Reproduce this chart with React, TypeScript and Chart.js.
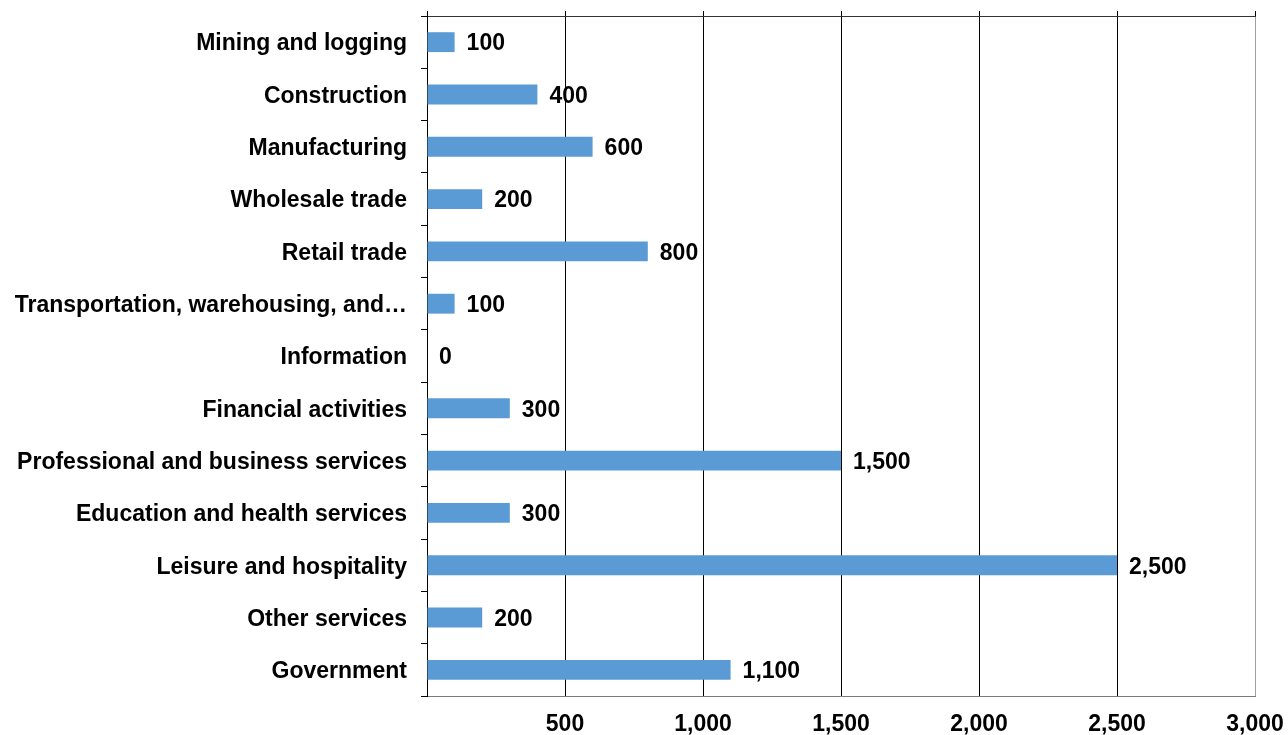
import { useEffect, useRef } from 'react';
import { Chart, registerables } from 'chart.js';

Chart.register(...registerables);

const categories = [
  'Mining and logging',
  'Construction',
  'Manufacturing',
  'Wholesale trade',
  'Retail trade',
  'Transportation, warehousing, and…',
  'Information',
  'Financial activities',
  'Professional and business services',
  'Education and health services',
  'Leisure and hospitality',
  'Other services',
  'Government',
];

const values = [100, 400, 600, 200, 800, 100, 0, 300, 1500, 300, 2500, 200, 1100];

const xTicks = [0, 500, 1000, 1500, 2000, 2500, 3000];

const FONT_FAMILY = '"Liberation Sans", Arial, Helvetica, sans-serif';
const FONT_SIZE = 23;

const valueLabels = {
  id: 'valueLabels',
  afterDatasetsDraw(chart: any) {
    const ctx = chart.ctx;
    const meta = chart.getDatasetMeta(0);
    ctx.save();
    ctx.font = `bold ${FONT_SIZE}px ${FONT_FAMILY}`;
    ctx.fillStyle = '#000';
    ctx.textAlign = 'left';
    ctx.textBaseline = 'middle';
    meta.data.forEach((bar: any, i: number) => {
      const v = chart.data.datasets[0].data[i] as number;
      ctx.fillText(v.toLocaleString('en-US'), bar.x + 12, bar.y + 2);
    });
    ctx.restore();
  },
};

const zeroPad = (s: any) => {
  s.paddingTop = 0;
  s.paddingBottom = 0;
  s.paddingLeft = 0;
  s.paddingRight = 0;
};

export default function App() {
  const ref = useRef<HTMLCanvasElement | null>(null);

  useEffect(() => {
    const canvas = ref.current;
    if (!canvas) return;
    const chart = new Chart(canvas, {
      type: 'bar',
      data: {
        labels: categories,
        datasets: [
          {
            data: values,
            backgroundColor: '#5B9BD5',
            borderWidth: 0,
            barPercentage: 0.38,
            categoryPercentage: 1,
          },
        ],
      },
      options: {
        indexAxis: 'y',
        responsive: false,
        animation: false,
        devicePixelRatio: 1,
        layout: { padding: { top: 0, left: 0, right: 33, bottom: 0 } },
        plugins: {
          legend: { display: false },
          tooltip: { enabled: false },
        },
        scales: {
          x: {
            type: 'linear',
            position: 'bottom',
            min: 0,
            max: 3000,
            afterBuildTicks: (s: any) => {
              s.ticks = xTicks.map((v) => ({ value: v }));
            },
            afterFit: (s: any) => {
              s.height = 39;
              zeroPad(s);
            },
            grid: {
              drawTicks: false,
              color: (ctx: any) => (ctx.tick && ctx.tick.value === 3000 ? '#a0a0a0' : '#000'),
              lineWidth: 1,
            },
            border: { display: true, color: '#7a7a7a', width: 1 },
            ticks: {
              padding: 15,
              color: '#000',
              maxRotation: 0,
              autoSkip: false,
              font: { family: FONT_FAMILY, size: FONT_SIZE, weight: 'bold' },
              callback: (v: any) => (Number(v) === 0 ? '' : Number(v).toLocaleString('en-US')),
            },
          },
          x2: {
            type: 'linear',
            position: 'top',
            min: 0,
            max: 3000,
            afterBuildTicks: (s: any) => {
              s.ticks = xTicks.map((v) => ({ value: v }));
            },
            afterFit: (s: any) => {
              s.height = 16;
              zeroPad(s);
            },
            grid: {
              drawOnChartArea: false,
              drawTicks: true,
              tickLength: 5,
              color: '#000',
            },
            border: { display: true, color: '#333', width: 1 },
            ticks: { display: false },
          },
          y: {
            type: 'category',
            position: 'left',
            afterFit: (s: any) => {
              s.width = 427;
              zeroPad(s);
            },
            grid: {
              offset: true,
              drawOnChartArea: false,
              drawTicks: true,
              tickLength: 6,
              color: '#000',
            },
            border: { display: true, color: '#000', width: 1 },
            ticks: {
              padding: 14,
              labelOffset: 2,
              color: '#000',
              autoSkip: false,
              font: { family: FONT_FAMILY, size: FONT_SIZE, weight: 'bold' },
            },
          },
        },
      },
      plugins: [valueLabels],
    } as any);
    return () => chart.destroy();
  }, []);

  return (
    <div style={{ position: 'absolute', left: 0, top: 0, width: 1288, height: 735, background: '#fff' }}>
      <canvas ref={ref} width={1288} height={735} style={{ display: 'block' }} />
    </div>
  );
}
